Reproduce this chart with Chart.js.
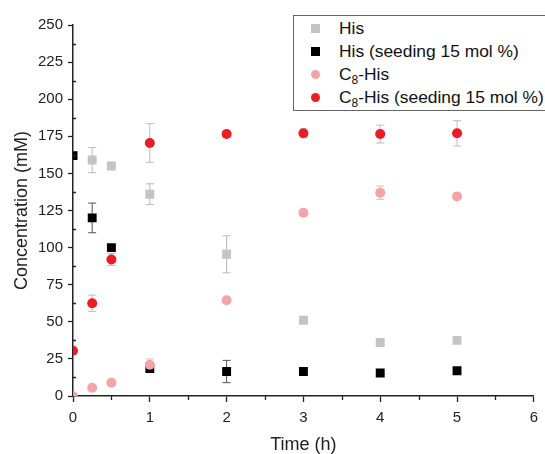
<!DOCTYPE html>
<html>
<head>
<meta charset="utf-8">
<script src="https://cdn.jsdelivr.net/npm/chart.js@4.4.1/dist/chart.umd.min.js"></script>
<style>
  html, body { margin: 0; padding: 0; background: #fff; overflow: hidden; }
  #wrap { position: relative; width: 545px; height: 454px; }
  #legend {
    position: absolute; left: 293px; top: 15px; width: 262px;
    border: 1px solid #666; background: #fff;
    font-family: "Liberation Sans", Arial, sans-serif; font-size: 17.4px; color: #111;
    padding: 1px 0 1px 0;
  }
  #legend .row { position: relative; height: 23px; line-height: 23px; padding-left: 45px; white-space: nowrap; }
  #legend .mk { position: absolute; left: 17px; top: 7px; width: 9px; height: 9px; }
  #legend sub { font-size: 12px; line-height: 0; vertical-align: -4px; }
</style>
</head>
<body>
<div id="wrap">
  <canvas id="chart" width="545" height="454"></canvas>
  <div id="legend"></div>
</div>
<script>
// Sampling times (h)
const times = [0, 0.25, 0.5, 1, 2, 3, 4, 5];

// Series values (mM) and error bars (+/-)
const hisValues = [162, 159, 155, 136, 95.5, 51, 36, 37.5];
const hisErr = [0, 8.5, 1, 7, 12.5, 1, 1, 1];
const hisSeedValues = [162, 120, 100, 18.5, 16.5, 16.5, 15.5, 17];
const hisSeedErr = [0, 10, 1.5, 1, 7.5, 0.5, 0.5, 0.5];
const c8HisValues = [0, 5.5, 9, 21, 64.5, 123.5, 137, 134.5];
const c8HisErr = [0, 0, 0, 4, 0.5, 1, 4.5, 1];
const c8HisSeedValues = [30.5, 62.5, 92, 170.5, 176.5, 177, 176.5, 177];
const c8HisSeedErr = [0, 5.5, 4, 13, 2, 3, 6, 8.5];

const labels = ['His', 'His (seeding 15 mol %)', 'C<sub>8</sub>-His', 'C<sub>8</sub>-His (seeding 15 mol %)'];
const colors = ['#c4c4c4', '#000000', '#f4a3a6', '#ec1c24'];
const errColors = ['#b8b8b8', '#555555', '#d8c0c0', '#bdbdbd'];
const styles = ['rect', 'rect', 'circle', 'circle'];

const seriesValues = [hisValues, hisSeedValues, c8HisValues, c8HisSeedValues];
const seriesErr = [hisErr, hisSeedErr, c8HisErr, c8HisSeedErr];

const FONT = '"Liberation Sans", Arial, sans-serif';

// later series sit on top, so order counts down
const datasets = seriesValues.map((vals, i) => ({
  label: labels[i],
  order: seriesValues.length - i,
  data: times.map((t, j) => ({ x: t, y: vals[j], err: seriesErr[i][j] })),
  backgroundColor: colors[i],
  borderColor: colors[i],
  borderWidth: 0,
  pointStyle: styles[i],
  pointRadius: styles[i] === 'rect' ? 6.3 : 5,
  pointHoverRadius: styles[i] === 'rect' ? 6.3 : 5,
}));

// Error bars, drawn under the markers
const errorBars = {
  id: 'errorBars',
  beforeDatasetsDraw(chart) {
    const { ctx, chartArea, scales: { x, y } } = chart;
    ctx.save();
    ctx.beginPath();
    ctx.rect(chartArea.left, chartArea.top, chartArea.right - chartArea.left, chartArea.bottom - chartArea.top);
    ctx.clip();
    ctx.lineWidth = 1;
    chart.data.datasets.forEach((ds, i) => {
      ctx.strokeStyle = errColors[i];
      ds.data.forEach(p => {
        if (!p.err) return;
        const px = x.getPixelForValue(p.x);
        const top = y.getPixelForValue(p.y + p.err);
        const bot = y.getPixelForValue(p.y - p.err);
        ctx.beginPath();
        ctx.moveTo(px, top); ctx.lineTo(px, bot);
        ctx.moveTo(px - 4, top); ctx.lineTo(px + 4, top);
        ctx.moveTo(px - 4, bot); ctx.lineTo(px + 4, bot);
        ctx.stroke();
      });
    });
    ctx.restore();
  }
};

// Minor ticks: y inside the plot, x below the axis
const minorTicks = {
  id: 'minorTicks',
  afterDraw(chart) {
    const { ctx, chartArea, scales: { x, y } } = chart;
    ctx.save();
    ctx.strokeStyle = '#222';
    ctx.lineWidth = 1.3;
    ctx.beginPath();
    for (let v = 12.5; v < 250; v += 25) {
      const py = Math.round(y.getPixelForValue(v)) + 0.5;
      ctx.moveTo(chartArea.left, py); ctx.lineTo(chartArea.left + 3, py);
    }
    for (let v = 0.5; v < 6; v += 1) {
      const px = Math.round(x.getPixelForValue(v)) + 0.5;
      ctx.moveTo(px, chartArea.bottom); ctx.lineTo(px, chartArea.bottom + 4);
    }
    ctx.stroke();
    ctx.restore();
  }
};

new Chart(document.getElementById('chart'), {
  type: 'scatter',
  data: { datasets },
  options: {
    responsive: false,
    animation: false,
    layout: { padding: { top: 25, right: 10, left: 0, bottom: 0 } },
    plugins: {
      legend: { display: false },
      tooltip: { enabled: false },
    },
    scales: {
      x: {
        type: 'linear',
        min: 0, max: 6,
        afterFit: s => { s.height = 58; },
        border: { color: '#222', width: 1.5 },
        grid: { drawOnChartArea: false, tickLength: 6, color: '#222', tickWidth: 1.3 },
        ticks: { stepSize: 1, padding: 7, color: '#222', font: { family: FONT, size: 15 } },
        title: { display: true, text: 'Time (h)', color: '#222', font: { family: FONT, size: 18, lineHeight: 1 }, padding: { top: 0, bottom: 0 } },
      },
      y: {
        type: 'linear',
        min: 0, max: 250,
        afterFit: s => { s.width = 73; },
        border: { color: '#222', width: 1.5 },
        grid: { drawOnChartArea: false, tickLength: 5, color: '#222', tickWidth: 1.3 },
        ticks: { stepSize: 25, padding: 5, color: '#222', font: { family: FONT, size: 15 } },
        title: { display: true, text: 'Concentration (mM)', color: '#222', font: { family: FONT, size: 18 }, padding: { top: 11, bottom: 0 } },
      },
    },
  },
  plugins: [errorBars, minorTicks],
});

// Legend with subscripts
const legend = document.getElementById('legend');
labels.forEach((lab, i) => {
  const row = document.createElement('div');
  row.className = 'row';
  const mk = document.createElement('span');
  mk.className = 'mk';
  mk.style.background = colors[i];
  if (styles[i] === 'circle') mk.style.borderRadius = '50%';
  row.appendChild(mk);
  const txt = document.createElement('span');
  txt.innerHTML = lab;
  row.appendChild(txt);
  legend.appendChild(row);
});
</script>
</body>
</html>
